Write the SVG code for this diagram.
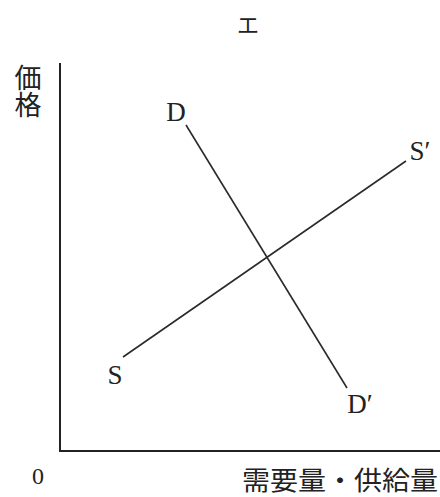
<svg xmlns="http://www.w3.org/2000/svg" width="440" height="497" viewBox="0 0 440 497">
<style>
.lbl{font-family:"Liberation Serif","Noto Sans CJK JP",serif;fill:#222}
.jp{font-family:"Noto Sans CJK JP",serif;fill:#222}
.ax{stroke:#222;stroke-width:2;fill:none}
.ln{stroke:#2a2a2a;stroke-width:1.6;fill:none}
</style>
<rect width="440" height="497" fill="#fff"/>
<text class="jp" x="248" y="33" font-size="22" text-anchor="middle">エ</text>
<g id="axes">
<path class="ax" d="M60,63 V451 H440"/>
</g>
<g id="label-price"><text class="jp" x="28" y="64" font-size="27" writing-mode="vertical-rl">価格</text></g>
<g id="label-zero"><text class="lbl" x="38" y="484" font-size="24" text-anchor="middle">0</text></g>
<g id="label-qty"><text class="jp" x="242" y="490" font-size="26" textLength="196" lengthAdjust="spacingAndGlyphs">需要量・供給量</text></g>
<g id="connectors">
<line class="ln" x1="186" y1="125" x2="347" y2="388"/>
<line class="ln" x1="123" y1="357" x2="406" y2="161"/>
</g>
<g id="D"><text class="lbl" x="176" y="121" font-size="27" text-anchor="middle">D</text></g>
<g id="Dp"><text class="lbl" x="360" y="413" font-size="27" text-anchor="middle">D′</text></g>
<g id="S"><text class="lbl" x="115" y="384" font-size="27" text-anchor="middle">S</text></g>
<g id="Sp"><text class="lbl" x="420" y="160" font-size="27" text-anchor="middle">S′</text></g>
</svg>
